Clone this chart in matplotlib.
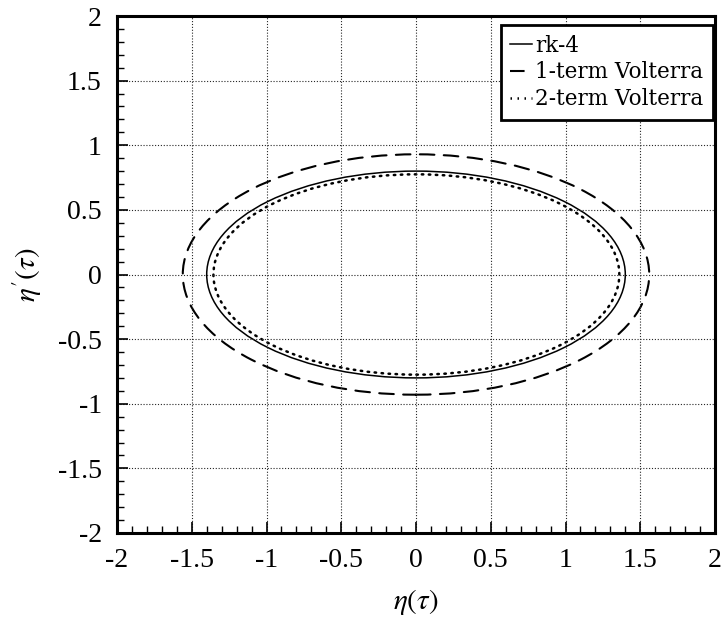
import matplotlib
matplotlib.use('Agg')
import matplotlib.pyplot as plt
from matplotlib.patches import Ellipse
from matplotlib.ticker import MultipleLocator

plt.rcParams['font.family'] = ['Liberation Serif', 'DejaVu Serif']
plt.rcParams['mathtext.fontset'] = 'stix'

# phase orbits: (x_left, x_right) and (y_bottom, y_top) extents of each closed curve
labels = ['rk-4', '1-term Volterra', '2-term Volterra']
x_extent = [(-1.40, 1.40), (-1.56, 1.56), (-1.355, 1.36)]
y_extent = [(-0.80, 0.80), (-0.93, 0.93), (-0.775, 0.775)]
styles = ['-', (0, (7, 4.5)), (0, (0.6, 2.2))]
widths = [1.1, 1.5, 1.8]

ticks = [-2, -1.5, -1, -0.5, 0, 0.5, 1, 1.5, 2]
tick_text = ['-2', '-1.5', '-1', '-0.5', '0', '0.5', '1', '1.5', '2']

fig = plt.figure(figsize=(7.28, 6.22), dpi=100)
ax = fig.add_axes([117 / 728, 1 - 533 / 622, 598 / 728, 517 / 622])

for lab, (x0, x1), (y0, y1), ls, lw in zip(labels, x_extent, y_extent, styles, widths):
    e = Ellipse(((x0 + x1) / 2, (y0 + y1) / 2), x1 - x0, y1 - y0,
                fill=False, edgecolor='black', linestyle=ls, linewidth=lw,
                capstyle='round')
    ax.add_patch(e)
    ax.plot([], [], color='black', linestyle=ls, linewidth=lw, label=lab)

ax.set_xlim(-2, 2)
ax.set_ylim(-2, 2)
ax.set_xticks(ticks)
ax.set_xticklabels(tick_text)
ax.set_yticks(ticks)
ax.set_yticklabels(tick_text)
ax.xaxis.set_minor_locator(MultipleLocator(0.1))
ax.yaxis.set_minor_locator(MultipleLocator(0.1))
ax.tick_params(which='both', direction='in', top=False, right=False, labelsize=20)
ax.tick_params(which='major', length=8, width=1.2, pad=11)
ax.tick_params(which='minor', length=5, width=1.0)
ax.grid(True, which='major', linestyle=(0, (1, 1.6)), linewidth=0.8, color='0.15')
for s in ax.spines.values():
    s.set_linewidth(2.2)

ax.set_xlabel(r'$\eta(\tau)$', fontsize=21, labelpad=10)
ax.set_ylabel(r"$\eta'(\tau)$", fontsize=21, labelpad=10)

leg = ax.legend(loc='upper right', bbox_to_anchor=(713 / 728, 1 - 25 / 622),
                bbox_transform=fig.transFigure, borderaxespad=0,
                prop={'family': 'DejaVu Serif', 'size': 15.5},
                handlelength=1.0, handletextpad=0.15,
                borderpad=0.45, labelspacing=0.22, fancybox=False, framealpha=1)
leg.get_frame().set_edgecolor('black')
leg.get_frame().set_linewidth(2.0)

fig.savefig('out.png', dpi=100)
